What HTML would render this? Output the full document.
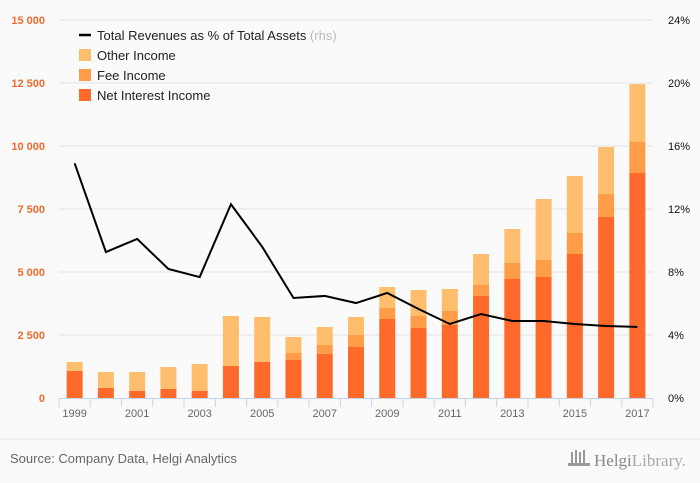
<!DOCTYPE html>
<html><head><meta charset="utf-8"><style>
body{margin:0;background:#fafafa;font-family:"Liberation Sans",sans-serif;}
svg{display:block}
</style></head><body>
<svg id="c" width="700" height="483" viewBox="0 0 700 483">
<rect width="700" height="483" fill="#fafafa"/>
<g id="grid"></g><g id="bars"></g><g id="axes"></g><g id="line"></g>
<g font-size="13" fill="#222">
 <line x1="79" y1="35" x2="91" y2="35" stroke="#000" stroke-width="2.5"/>
 <text x="97" y="40">Total Revenues as % of Total Assets <tspan fill="#bbb">(rhs)</tspan></text>
 <rect x="79" y="49" width="12" height="12" fill="#ffbe6e"/>
 <text x="97" y="60">Other Income</text>
 <rect x="79" y="69" width="12" height="12" fill="#ff9c48"/>
 <text x="97" y="80">Fee Income</text>
 <rect x="79" y="89" width="12" height="12" fill="#ff6a2a"/>
 <text x="97" y="100">Net Interest Income</text>
</g>
<line x1="0" y1="439" x2="700" y2="439" stroke="#e6e6e6"/>
<text x="10" y="463" font-size="13" fill="#666">Source: Company Data, Helgi Analytics</text>
<g>
 <rect x="571" y="452" width="2" height="12" fill="#999"/><rect x="575" y="450" width="2" height="14" fill="#999"/><rect x="579" y="452" width="2" height="12" fill="#999"/><rect x="583" y="450" width="2" height="14" fill="#999"/><rect x="568" y="463" width="22" height="3" fill="#999"/>
 <text x="594" y="466" font-size="17" fill="#888" font-family="Liberation Serif,serif">Helgi<tspan fill="#aaa">Library.</tspan></text>
</g>
</svg>
<script>
const years=[1999,2000,2001,2002,2003,2004,2005,2006,2007,2008,2009,2010,2011,2012,2013,2014,2015,2016,2017];
const nii=[1071,397,278,357,278,1270,1429,1508,1746,2024,3135,2778,2897,4048,4722,4802,5714,7183,8929];
const fee=[0,0,0,0,0,0,0,278,357,476,436,476,555,436,635,674,834,912,1230];
const other=[358,635,754,873,1071,1984,1785,634,714,714,834,1032,873,1230,1349,2421,2262,1865,2301];
const pct=[14.9,9.27,10.1,8.19,7.68,12.3,9.6,6.35,6.48,6.03,6.67,5.65,4.70,5.33,4.89,4.89,4.70,4.57,4.51];
const leftTicks=[0,2500,5000,7500,10000,12500,15000];
const leftLabels=["0","2 500","5 000","7 500","10 000","12 500","15 000"];
const rightTicks=[0,4,8,12,16,20,24];
const NS="http://www.w3.org/2000/svg";
const x0=59,x1=653,y0=398,yTop=20,band=(x1-x0)/years.length;
const yL=v=>y0-(v/15000)*(y0-yTop);
const yR=v=>y0-(v/24)*(y0-yTop);
const xC=i=>x0+band*(i+0.5);
function mk(t,a,p){const e=document.createElementNS(NS,t);for(const k in a)e.setAttribute(k,a[k]);p.appendChild(e);return e;}
const G=document.getElementById('grid'),B=document.getElementById('bars'),A=document.getElementById('axes'),L=document.getElementById('line');
leftTicks.forEach((v,i)=>{
 if(v>0){const g=mk('line',{x1:x0,x2:x1,y1:yL(v),y2:yL(v),stroke:'#e2e2e2'},G);
 
 }
 const t=mk('text',{x:45,y:yL(v)+4,'text-anchor':'end','font-size':11,fill:'#f26b2e','font-weight':'bold'},A);t.textContent=leftLabels[i];
 
 
});
rightTicks.forEach(v=>{
 const t=mk('text',{x:668,y:yR(v)+4,'font-size':11,fill:'#111'},A);t.textContent=v+'%';
 
 
});
const bw=16;
years.forEach((yr,i)=>{
 const segs=[[nii[i],'#ff6a2a','bar-nii'],[fee[i],'#ff9c48','bar-fee'],[other[i],'#ffbe6e','bar-other']];
 let base=0;
 segs.forEach(s=>{
  if(s[0]<=0)return;
  const r=mk('rect',{x:xC(i)-bw/2,y:yL(base+s[0]),width:bw,height:yL(base)-yL(base+s[0]),fill:s[1]},B);
  
  
  base+=s[0];
 });
 if(i%2===0){const t=mk('text',{x:xC(i),y:417,'text-anchor':'middle','font-size':11,fill:'#666'},A);t.textContent=yr;
 
 }
});
const ax=mk('line',{x1:x0,x2:x1,y1:y0+0.5,y2:y0+0.5,stroke:'#c5d3ea'},A);


for(let i=0;i<=years.length;i++){const tk=mk('line',{x1:x0+band*i,x2:x0+band*i,y1:y0,y2:y0+9,stroke:'#c5d3ea'},A);
 
 }
const p=mk('polyline',{points:pct.map((v,i)=>xC(i)+','+yR(v)).join(' '),fill:'none',stroke:'#000','stroke-width':2},L);


</script>
</body></html>
